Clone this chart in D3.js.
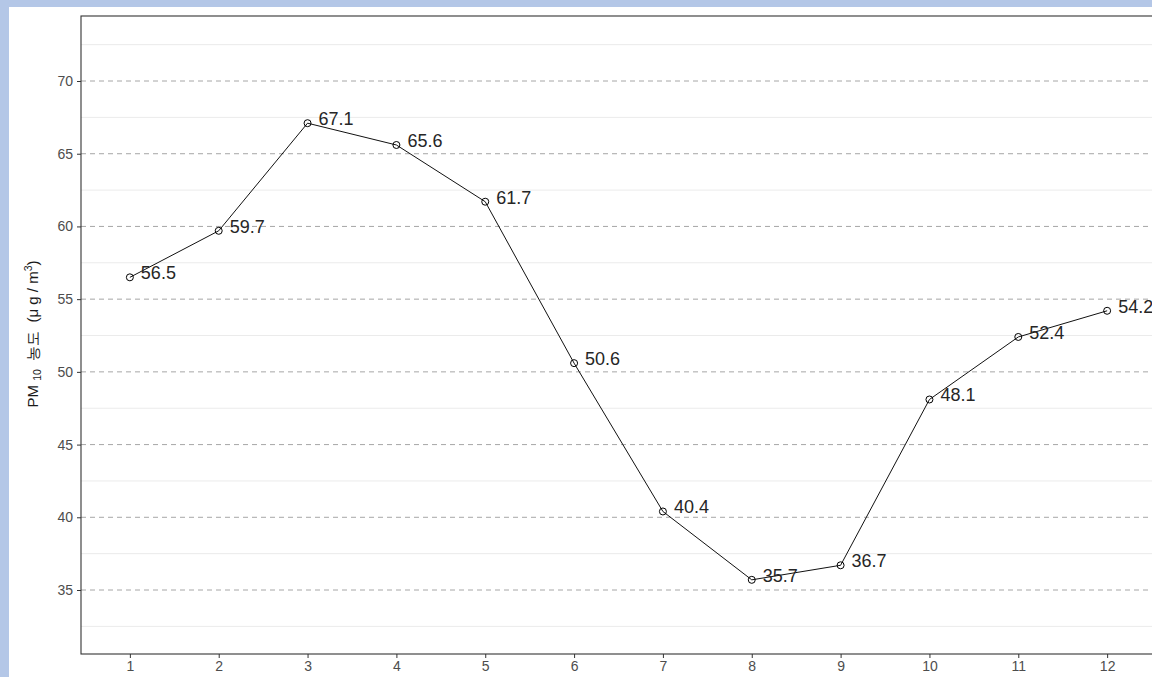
<!DOCTYPE html>
<html>
<head>
<meta charset="utf-8">
<title>PM10 monthly</title>
<style>
  body { margin: 0; background: #b4c7e7; overflow: hidden; }
  svg { display: block; }
  text { font-family: "Liberation Sans", Arial, sans-serif; }
</style>
</head>
<body>
<svg width="1152" height="677"></svg>
<script src="https://d3js.org/d3.v7.min.js"></script>
<script>

var months = [1, 2, 3, 4, 5, 6, 7, 8, 9, 10, 11, 12];
var pm10 = [56.5, 59.7, 67.1, 65.6, 61.7, 50.6, 40.4, 35.7, 36.7, 48.1, 52.4, 54.2];
var yTicks = [35, 40, 45, 50, 55, 60, 65, 70];
var yMinor = [32.5, 37.5, 42.5, 47.5, 52.5, 57.5, 62.5, 67.5, 72.5];

var svg = d3.select("svg"),
    width = +svg.attr("width"),
    height = +svg.attr("height");

// white page area inside the blue frame
svg.append("rect")
    .attr("x", 9).attr("y", 7)
    .attr("width", width).attr("height", height)
    .attr("fill", "#fff");

var pLeft = 81, pTop = 16, pRight = 1156, pBottom = 654;

var x = d3.scaleLinear().domain([0.45, 12.55]).range([pLeft, pRight]);
var y = d3.scaleLinear().domain([30.6, 74.47]).range([pBottom, pTop]);

// minor grid
svg.append("g").selectAll("line")
  .data(yMinor)
  .enter().append("line")
    .attr("x1", pLeft).attr("x2", pRight)
    .attr("y1", function(d) { return y(d); })
    .attr("y2", function(d) { return y(d); })
    .attr("stroke", "#ebebeb")
    .attr("stroke-width", 1);

// major grid, dashed
svg.append("g").selectAll("line")
  .data(yTicks)
  .enter().append("line")
    .attr("x1", pLeft).attr("x2", pRight)
    .attr("y1", function(d) { return y(d); })
    .attr("y2", function(d) { return y(d); })
    .attr("stroke", "#a6a6a6")
    .attr("stroke-width", 1)
    .attr("stroke-dasharray", "5,4");

// axes
var yAxis = svg.append("g")
    .attr("transform", "translate(" + pLeft + ",0)")
    .call(d3.axisLeft(y).tickValues(yTicks).tickSize(4).tickPadding(4));

var xAxis = svg.append("g")
    .attr("transform", "translate(0," + pBottom + ")")
    .call(d3.axisBottom(x).tickValues(months).tickSize(4).tickPadding(3));

[yAxis, xAxis].forEach(function(a) {
  a.select(".domain").remove();
  a.selectAll(".tick line").attr("stroke", "#333");
  a.selectAll(".tick text")
    .attr("fill", "#4d4d4d")
    .style("font-size", "14px")
    .style("font-family", "'Liberation Sans', Arial, sans-serif");
});

// panel border
svg.append("rect")
    .attr("x", pLeft).attr("y", pTop)
    .attr("width", pRight - pLeft).attr("height", pBottom - pTop)
    .attr("fill", "none")
    .attr("stroke", "#333")
    .attr("stroke-width", 1.1);

// line
var line = d3.line()
    .x(function(d, i) { return x(months[i]); })
    .y(function(d) { return y(d); });

svg.append("path")
    .datum(pm10)
    .attr("fill", "none")
    .attr("stroke", "#111")
    .attr("stroke-width", 1)
    .attr("d", line);

// points
svg.append("g").selectAll("circle")
  .data(pm10)
  .enter().append("circle")
    .attr("cx", function(d, i) { return x(months[i]); })
    .attr("cy", function(d) { return y(d); })
    .attr("r", 3.5)
    .attr("fill", "none")
    .attr("stroke", "#000")
    .attr("stroke-width", 1);

// value labels
svg.append("g").selectAll("text")
  .data(pm10)
  .enter().append("text")
    .attr("x", function(d, i) { return x(months[i]) + 11; })
    .attr("y", function(d) { return y(d) - 4; })
    .attr("dominant-baseline", "central")
    .attr("fill", "#262626")
    .style("font-size", "18px")
    .text(function(d) { return d.toFixed(1); });

// y axis title
var title = svg.append("text")
    .attr("transform", "translate(38," + 334 + ") rotate(-90)")
    .attr("text-anchor", "middle")
    .attr("fill", "#1a1a1a")
    .style("font-size", "15px")
    .style("white-space", "pre")
    .attr("xml:space", "preserve");
title.append("tspan").text("PM ");
title.append("tspan").attr("dy", 3).style("font-size", "10.5px").text("10");
title.append("tspan").attr("dy", -3).text("  농도  (μ g / m");
title.append("tspan").attr("dy", -6).style("font-size", "10.5px").text("3");
title.append("tspan").attr("dy", 6).text(")");

</script>
</body>
</html>
